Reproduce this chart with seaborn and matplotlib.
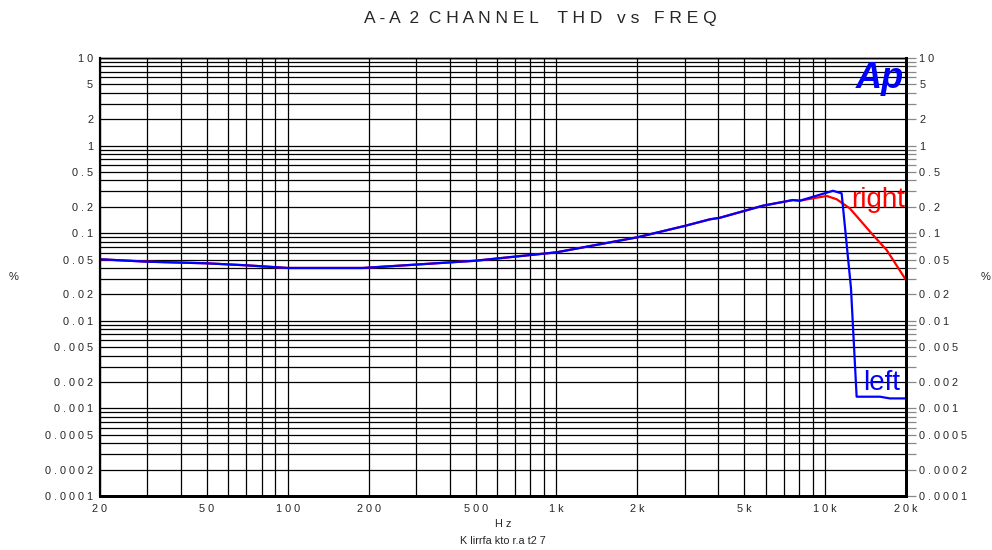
import numpy as np
import pandas as pd
import seaborn as sns
import matplotlib
matplotlib.use("Agg")
import matplotlib.pyplot as plt
from matplotlib.ticker import FixedLocator, FixedFormatter, NullFormatter

# THD readings (%) per channel
freq_common = [20, 30, 50, 70, 100, 190, 260, 500, 1000, 2000, 3000, 3725, 4055, 5865, 7585, 8055]
thd_common = [0.0504, 0.0473, 0.0453, 0.0430, 0.0401, 0.0401, 0.0426, 0.0485, 0.0605, 0.0898,
              0.121, 0.144, 0.150, 0.206, 0.239, 0.235]

freq_left = freq_common + [10700, 11520, 12480, 13100, 16000, 17420, 20000]
thd_left = thd_common + [0.305, 0.285, 0.0237, 0.00136, 0.00136, 0.0013, 0.0013]

freq_right = freq_common + [9000, 10140, 11040, 12360, 15070, 16940, 20000]
thd_right = thd_common + [0.25, 0.266, 0.244, 0.192, 0.0953, 0.0643, 0.0292]

x_ticks = [20, 50, 100, 200, 500, 1000, 2000, 5000, 10000, 20000]
x_labels = ["20", "50", "100", "200", "500", "1k", "2k", "5k", "10k", "20k"]
y_ticks = [10, 5, 2, 1, 0.5, 0.2, 0.1, 0.05, 0.02, 0.01, 0.005, 0.002, 0.001,
           0.0005, 0.0002, 0.0001]
y_labels = ["10", "5", "2", "1", "0.5", "0.2", "0.1", "0.05", "0.02", "0.01", "0.005",
            "0.002", "0.001", "0.0005", "0.0002", "0.0001"]


def spaced(s):
    # mimic the letter-spaced plotter font
    return " ".join(s)


df = pd.concat([
    pd.DataFrame({"freq": freq_right, "thd": thd_right, "channel": "right"}),
    pd.DataFrame({"freq": freq_left, "thd": thd_left, "channel": "left"}),
])

sns.set_style("white")
plt.rcParams["font.family"] = ["Liberation Sans", "DejaVu Sans"]

fig = plt.figure(figsize=(9.92, 5.5), dpi=100)
ax = fig.add_axes([100 / 992, 1 - 496 / 550, 806 / 992, 438 / 550])

sns.lineplot(data=df, x="freq", y="thd", hue="channel", hue_order=["right", "left"],
             palette={"right": "red", "left": "blue"}, estimator=None, sort=False,
             linewidth=1.6, legend=False, ax=ax)

ax.set_xscale("log")
ax.set_yscale("log")
ax.set_xlim(20, 20000)
ax.set_ylim(0.0001, 10)

# grid on every decade subdivision
x_minor = [m * 10 ** d for d in range(1, 5) for m in range(1, 10)]
x_minor = [v for v in x_minor if 20 <= v <= 20000 and v not in x_ticks]
y_minor = [m * 10.0 ** d for d in range(-4, 1) for m in range(1, 10)]
y_minor = [v for v in y_minor if not any(np.isclose(v, t) for t in y_ticks)]

ax.xaxis.set_major_locator(FixedLocator(x_ticks))
ax.xaxis.set_major_formatter(FixedFormatter([spaced(s) for s in x_labels]))
ax.xaxis.set_minor_locator(FixedLocator(x_minor))
ax.xaxis.set_minor_formatter(NullFormatter())
ax.yaxis.set_major_locator(FixedLocator(y_ticks))
ax.yaxis.set_major_formatter(FixedFormatter([spaced(s) for s in y_labels]))
ax.yaxis.set_minor_locator(FixedLocator(y_minor))
ax.yaxis.set_minor_formatter(NullFormatter())

ax.grid(which="both", color="black", linewidth=0.9)
ax.set_axisbelow(True)

ax.tick_params(axis="x", which="both", length=0, pad=6, labelsize=7.8)
ax.tick_params(axis="y", which="both", left=False, length=0, pad=5, labelsize=7.8)

# right-hand scale with the short grey extensions
ax2 = ax.twinx()
ax2.set_yscale("log")
ax2.set_ylim(ax.get_ylim())
ax2.yaxis.set_major_locator(FixedLocator(y_ticks))
ax2.yaxis.set_major_formatter(FixedFormatter([spaced(s) for s in y_labels]))
ax2.yaxis.set_minor_locator(FixedLocator(y_minor))
ax2.yaxis.set_minor_formatter(NullFormatter())
ax2.tick_params(axis="y", which="both", direction="out", length=7, color="#888888",
                width=0.9, pad=2.5, labelsize=7.8)

for a in (ax, ax2):
    for side, lw in [("left", 1.5), ("bottom", 2), ("right", 2), ("top", 1)]:
        a.spines[side].set_color("black")
        a.spines[side].set_linewidth(lw)
    a.set_xlabel("")
    a.set_ylabel("")

ax.text(0.932, 0.660, "right", transform=ax.transAxes, color="red", fontsize=20,
        va="baseline", ha="left")
ax.text(0.947, 0.242, "left", transform=ax.transAxes, color="blue", fontsize=20,
        va="baseline", ha="left")
ax.text(0.997, 0.993, "Ap", transform=ax.transAxes, color="blue", fontsize=26,
        fontweight="heavy", fontstyle="italic", va="top", ha="right")

fig.text(540 / 992, 1 - 18 / 550, "A - A  2  C H A N N E L    T H D   v s   F R E Q",
         ha="center", va="center", fontsize=12.5)
fig.text(14 / 992, 1 - 277 / 550, "%", ha="center", va="center", fontsize=8)
fig.text(986 / 992, 1 - 277 / 550, "%", ha="center", va="center", fontsize=8)
fig.text(503 / 992, 1 - 524 / 550, "H z", ha="center", va="center", fontsize=7.8)
fig.text(503 / 992, 1 - 541 / 550, "K lirrfa kto r.a t2 7", ha="center", va="center",
         fontsize=7.8)

fig.savefig("out.png", dpi=100)
